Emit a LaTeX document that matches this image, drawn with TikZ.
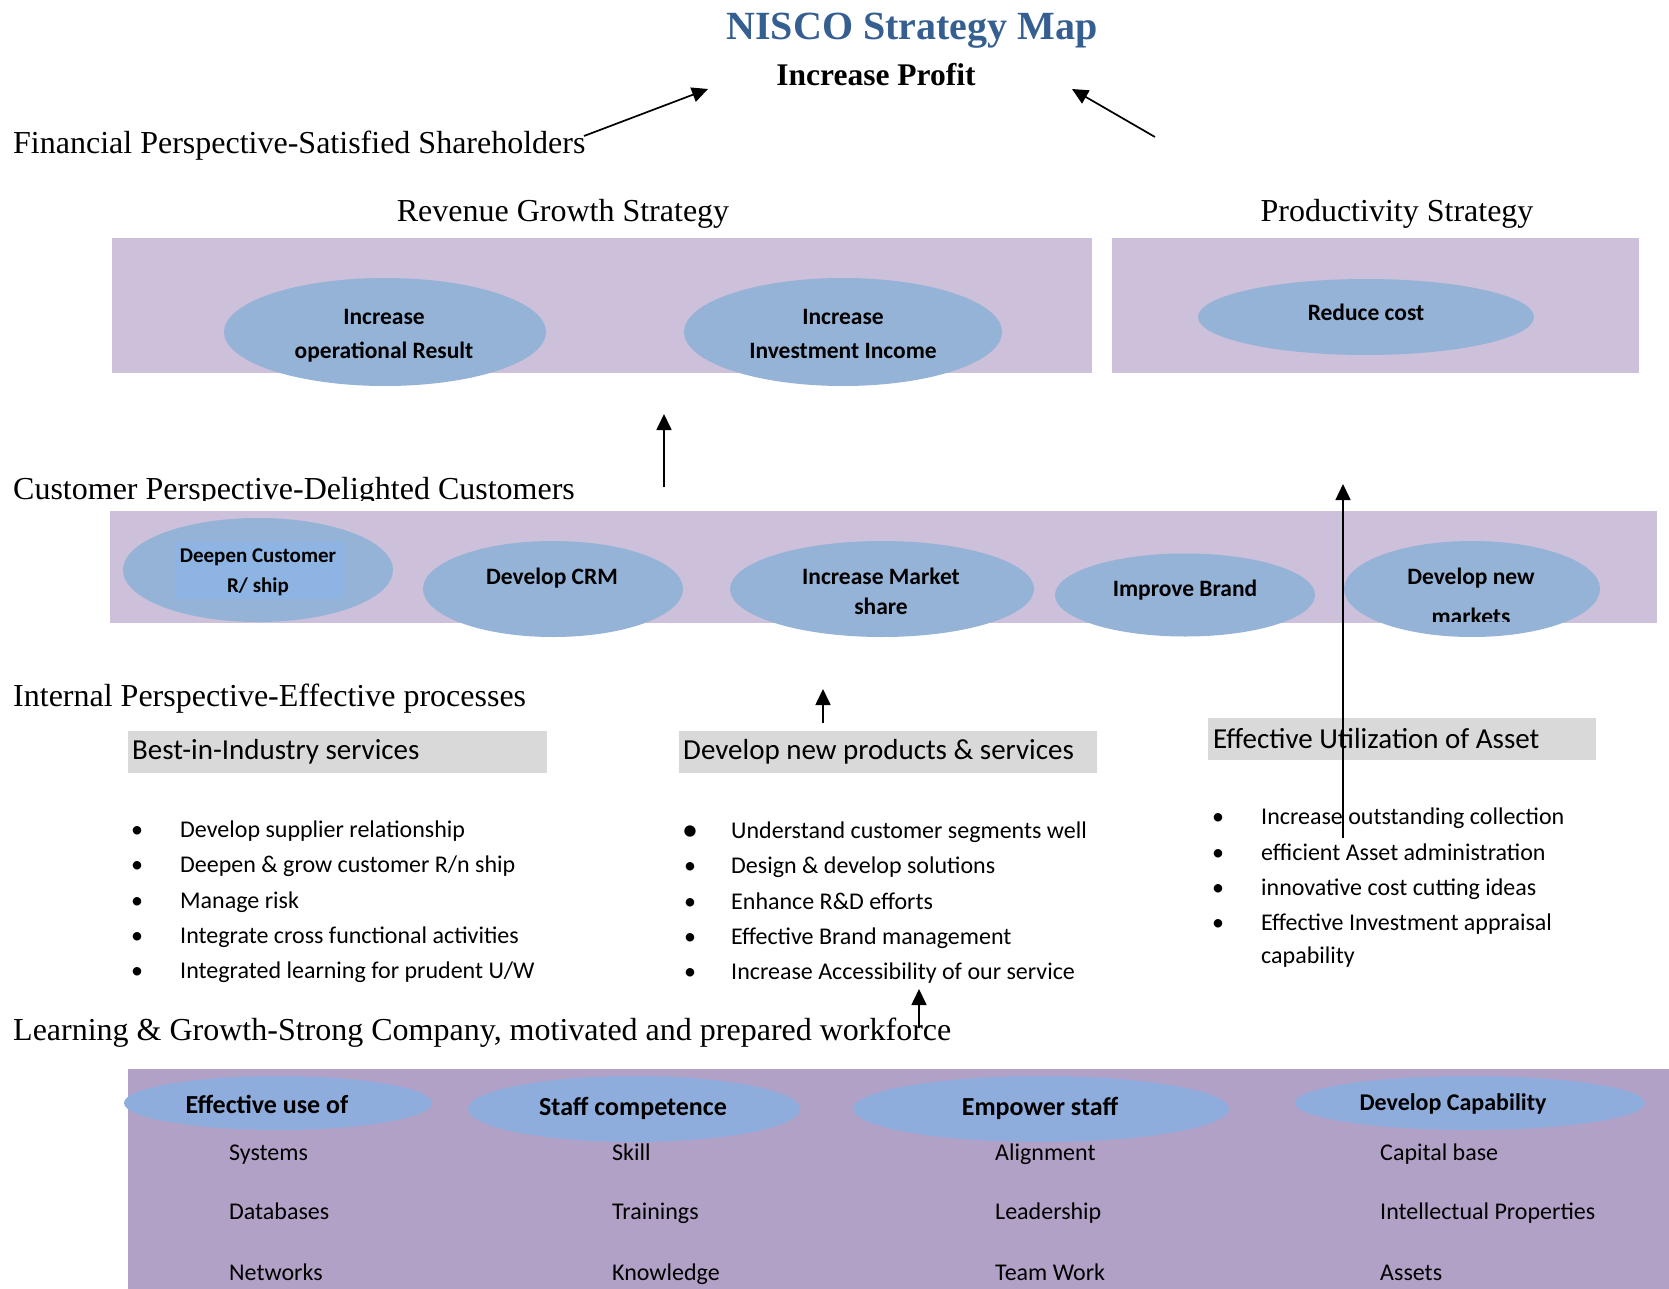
\documentclass[tikz,border=0pt]{standalone}
\usepackage{fontspec}
\setmainfont{Liberation Serif}
\newfontfamily\calib{Carlito}
\usetikzlibrary{shapes.geometric,arrows.meta}
\definecolor{lav}{RGB}{204,192,218}
\definecolor{eblue}{RGB}{149,179,215}
\definecolor{iblue}{RGB}{141,180,226}
\definecolor{gbox}{RGB}{217,217,217}
\definecolor{dlav}{RGB}{178,161,199}
\definecolor{bblue}{RGB}{143,173,220}
\definecolor{ttl}{RGB}{54,95,145}
\begin{document}
\begin{tikzpicture}[x=1pt,y=-1pt,
  box/.style={inner sep=0, draw=none, anchor=north west},
  oval/.style={ellipse, fill=eblue, draw=none, inner sep=0},
  boval/.style={ellipse, fill=bblue, draw=none, inner sep=0},
  etext/.style={font=\calib\bfseries\fontsize{23.5}{28}\selectfont, anchor=base, inner sep=0},
  head/.style={font=\fontsize{32}{38}\selectfont, anchor=base west, inner sep=0},
  sub/.style={font=\fontsize{32}{38}\selectfont, anchor=base, inner sep=0},
  gtext/.style={font=\calib\fontsize{29}{34}\selectfont, anchor=base west, inner sep=0},
  item/.style={font=\calib\fontsize{24}{29}\selectfont, anchor=base west, inner sep=0},
  bul/.style={font=\calib\fontsize{24}{29}\selectfont, anchor=base, inner sep=0},
  arr/.style={-{Triangle[length=16pt,width=15pt]}, line width=1.7pt}]
\useasboundingbox (0,0) rectangle (1669,1289);

% title
\node[font=\bfseries\fontsize{40}{46}\selectfont, text=ttl, anchor=base, inner sep=0] (title) at (912,40) {NISCO Strategy Map};
\node[font=\bfseries\fontsize{31.5}{36}\selectfont, anchor=base, inner sep=0] (profit) at (876,86) {Increase Profit};

% financial
\node[head] (fin) at (13,154) {Financial Perspective-Satisfied Shareholders};
\node[sub] (rev) at (563,222) {Revenue Growth Strategy};
\node[sub] (prod) at (1397,222) {Productivity Strategy};
\node[box, fill=lav, minimum width=980pt, minimum height=135pt] (revbox) at (112,238) {};
\node[box, fill=lav, minimum width=527pt, minimum height=135pt] (prodbox) at (1112,238) {};
\node[oval, minimum width=322pt, minimum height=108pt] (opres) at (385,332) {};
\node[oval, minimum width=318pt, minimum height=108pt] (invinc) at (843,332) {};
\node[oval, minimum width=336pt, minimum height=76pt] (redcost) at (1366,317) {};
\node[etext] (opres1) at (384,324) {Increase};
\node[etext] (opres2) at (384,358) {operational Result};
\node[etext] (invinc1) at (843,324) {Increase};
\node[etext] (invinc2) at (843,358) {Investment Income};
\node[etext] (redcostt) at (1366,320) {Reduce cost};

\coordinate (a1s) at (584,136);
\coordinate (a1e) at (708,89);
\coordinate (a2s) at (1155,137);
\coordinate (a2e) at (1072,89);
\draw[arr] (a1s) -- (a1e);
\draw[arr] (a2s) -- (a2e);

% customer
\begin{scope}
\clip (0,460) rectangle (700,500);
\node[head] (cust) at (13,499) {Customer Perspective-Delighted Customers};
\end{scope}
\coordinate (a3s) at (664,487);
\coordinate (a3e) at (664,414);
\draw[arr] (a3s) -- (a3e);

\node[box, fill=lav, minimum width=1547pt, minimum height=112pt] (custbox) at (110,511) {};
\node[oval, minimum width=270pt, minimum height=104pt] (deepen) at (258,570) {};
\node[fill=iblue, inner sep=0, minimum width=168pt, minimum height=57pt] (deepenr) at (260,570.5) {};
\node[oval, minimum width=260pt, minimum height=96pt] (crm) at (553,589) {};
\node[oval, minimum width=304pt, minimum height=96pt] (mkt) at (882,589) {};
\node[oval, minimum width=260pt, minimum height=83pt] (brand) at (1185,595) {};
\node[oval, minimum width=256pt, minimum height=96pt] (newmk) at (1472,589) {};
\node[etext, font=\calib\bfseries\fontsize{21}{25}\selectfont] (deepen1) at (258,562) {Deepen Customer};
\node[etext, font=\calib\bfseries\fontsize{21}{25}\selectfont] (deepen2) at (258,592) {R/ ship};
\node[etext] (crmt) at (552,584) {Develop CRM};
\node[etext] (mkt1) at (881,584) {Increase Market};
\node[etext] (mkt2) at (881,614) {share};
\node[etext] (brandt) at (1185,596) {Improve Brand};
\node[etext] (newmk1) at (1471,584) {Develop new};
\begin{scope}
\clip (1380,595) rectangle (1560,621);
\node[etext] (newmk2) at (1471,624) {markets};
\end{scope}

% internal
\node[head] (intl) at (13,706) {Internal Perspective-Effective processes};
\coordinate (a4s) at (823,723);
\coordinate (a4e) at (823,689);
\draw[arr] (a4s) -- (a4e);

\node[box, fill=gbox, minimum width=419pt, minimum height=42pt] (g1) at (128,731) {};
\node[box, fill=gbox, minimum width=418pt, minimum height=42pt] (g2) at (679,731) {};
\node[box, fill=gbox, minimum width=388pt, minimum height=42pt] (g3) at (1208,718) {};
\node[gtext] (g1t) at (132,759) {Best-in-Industry services};
\node[gtext] (g2t) at (683,759) {Develop new products \& services};
\node[gtext] (g3t) at (1213,748) {Effective Utilization of Asset};

% left list
\node[bul] (lb1) at (137,837) {\textbullet};
\node[bul] (lb2) at (137,872) {\textbullet};
\node[bul] (lb3) at (137,908) {\textbullet};
\node[bul] (lb4) at (137,943) {\textbullet};
\node[bul] (lb5) at (137,978) {\textbullet};
\node[item] (l1) at (180,837) {Develop supplier relationship};
\node[item] (l2) at (180,872) {Deepen \& grow customer R/n ship};
\node[item] (l3) at (180,908) {Manage risk};
\node[item] (l4) at (180,943) {Integrate cross functional activities};
\node[item] (l5) at (180,978) {Integrated learning for prudent U/W};

% middle list
\node[bul, font=\calib\fontsize{32}{29}\selectfont] (mb1) at (690,840) {\textbullet};
\node[bul] (mb2) at (690,873) {\textbullet};
\node[bul] (mb3) at (690,909) {\textbullet};
\node[bul] (mb4) at (690,944) {\textbullet};
\node[bul] (mb5) at (690,979) {\textbullet};
\node[item] (m1) at (731,838) {Understand customer segments well};
\node[item] (m2) at (731,873) {Design \& develop solutions};
\node[item] (m3) at (731,909) {Enhance R\&D efforts};
\node[item] (m4) at (731,944) {Effective Brand management};
\node[item] (m5) at (731,979) {Increase Accessibility of our service};

% right list
\node[bul] (rb1) at (1218,824) {\textbullet};
\node[bul] (rb2) at (1218,860) {\textbullet};
\node[bul] (rb3) at (1218,895) {\textbullet};
\node[bul] (rb4) at (1218,930) {\textbullet};
\node[item] (r1) at (1261,824) {Increase outstanding collection};
\node[item] (r2) at (1261,860) {efficient Asset administration};
\node[item] (r3) at (1261,895) {innovative cost cutting ideas};
\node[item] (r4) at (1261,930) {Effective Investment appraisal};
\node[item] (r5) at (1261,963) {capability};

% long arrow
\coordinate (a5s) at (1343,838);
\coordinate (a5e) at (1343,484);
\draw[arr, line width=1.5pt] (a5s) -- (a5e);

% learning
\node[head] (learn) at (13,1040) {Learning \& Growth-Strong Company, motivated and prepared workforce};
\coordinate (a6s) at (919,1028);
\coordinate (a6e) at (919,989);
\draw[arr] (a6s) -- (a6e);

\node[box, fill=dlav, minimum width=1541pt, minimum height=220pt] (learnbox) at (128,1069) {};
\node[boval, minimum width=308pt, minimum height=54pt] (eff) at (278,1103) {};
\node[boval, minimum width=332pt, minimum height=66pt] (staff) at (634,1109) {};
\node[boval, minimum width=376pt, minimum height=66pt] (emp) at (1041,1109) {};
\node[boval, minimum width=350pt, minimum height=54pt] (cap) at (1470,1103) {};
\node[etext, font=\calib\bfseries\fontsize{26}{30}\selectfont] (efft) at (267,1113) {Effective use of};
\node[etext, font=\calib\bfseries\fontsize{26}{30}\selectfont] (stafft) at (633,1115) {Staff competence};
\node[etext, font=\calib\bfseries\fontsize{26}{30}\selectfont] (empt) at (1040,1115) {Empower staff};
\node[etext, font=\calib\bfseries\fontsize{24}{30}\selectfont] (capt) at (1453,1110) {Develop Capability};

\node[item] (c11) at (229,1160) {Systems};
\node[item] (c12) at (229,1219) {Databases};
\node[item] (c13) at (229,1280) {Networks};
\node[item] (c21) at (612,1160) {Skill};
\node[item] (c22) at (612,1219) {Trainings};
\node[item] (c23) at (612,1280) {Knowledge};
\node[item] (c31) at (995,1160) {Alignment};
\node[item] (c32) at (995,1219) {Leadership};
\node[item] (c33) at (995,1280) {Team Work};
\node[item] (c41) at (1380,1160) {Capital base};
\node[item] (c42) at (1380,1219) {Intellectual Properties};
\node[item] (c43) at (1380,1280) {Assets};
\end{tikzpicture}
\end{document}
